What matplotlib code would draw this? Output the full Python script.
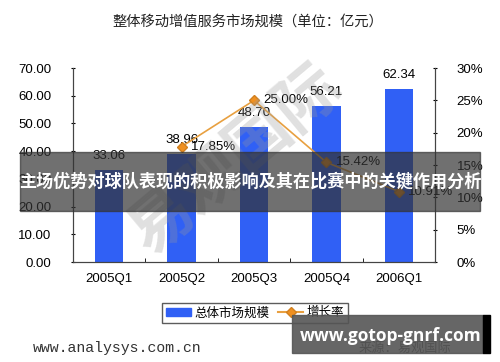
import matplotlib.pyplot as plt
from matplotlib.patches import Rectangle

plt.rcParams['font.family'] = ['Liberation Sans', 'Noto Sans CJK SC', 'DejaVu Sans']

quarters = ['2005Q1', '2005Q2', '2005Q3', '2005Q4', '2006Q1']
market = [33.06, 38.96, 48.70, 56.21, 62.34]
growth = [None, 17.85, 25.00, 15.42, 10.91]
left_ticks = [0, 10, 20, 30, 40, 50, 60, 70]
right_ticks = [0, 5, 10, 15, 20, 25, 30]

fig = plt.figure(figsize=(5.0, 3.62), dpi=100)
ax = fig.add_axes([0.146, 0.276, 0.724, 0.536])
ax2 = ax.twinx()

x = list(range(len(quarters)))
ax.bar(x, market, width=0.39, color='#3060f5', zorder=2)
for xi, v in zip(x, market):
    ax.text(xi, v + 3, f'{v:.2f}', ha='center', va='bottom', fontsize=9.5)

gx = [xi for xi, g in zip(x, growth) if g is not None]
gy = [g for g in growth if g is not None]
ax2.plot(gx, gy, color='#e8a040', lw=1.2, marker='D', ms=5,
         mfc='#f09020', mec='#d08020', zorder=3)
for xi, g in zip(gx, gy):
    ax2.text(xi + 0.13, g, f'{g:.2f}%', ha='left', va='center', fontsize=9.5)

ax.set_xlim(-0.5, 4.5)
ax.set_ylim(0, 70)
ax2.set_ylim(0, 30)
ax.set_yticks(left_ticks)
ax.set_yticklabels([f'{t:.2f}' for t in left_ticks], fontsize=9.5)
ax2.set_yticks(right_ticks)
ax2.set_yticklabels([f'{t}%' for t in right_ticks], fontsize=9.5)
ax.set_xticks(x)
ax.set_xticklabels(quarters, fontsize=9.5)
ax.tick_params(axis='x', length=0, pad=8)
ax.set_xticks([0.5, 1.5, 2.5, 3.5], minor=True)
ax.tick_params(axis='x', which='minor', length=3, direction='in')
ax.tick_params(axis='y', length=3, direction='inout', pad=14)
ax2.tick_params(axis='y', length=3, direction='inout', pad=14)
for a in (ax, ax2):
    a.spines['top'].set_visible(False)
    for s in ('left', 'right', 'bottom'):
        a.spines[s].set_color('#444444')
        a.spines[s].set_linewidth(0.8)

h1 = Rectangle((0, 0), 1, 1, color='#3060f5')
h2, = ax2.plot([], [], color='#e8a040', marker='D', ms=5, mfc='#f09020', mec='#d08020')
fig.legend([h1, h2], ['总体市场规模', '增长率'], loc='center', bbox_to_anchor=(0.51, 0.135),
           ncol=2, fontsize=9, frameon=True, fancybox=False, edgecolor='#333333',
           handlelength=2.0, handletextpad=0.3, columnspacing=0.7, borderpad=0.3)

fig.text(0.495, 0.94, '整体移动增值服务市场规模（单位：亿元）', ha='center', va='center',
         fontsize=10.3, family=['Noto Sans CJK SC'], color='#222222')

# watermark
fig.text(0.47, 0.56, '易观国际', ha='center', va='center', fontsize=46, rotation=40,
         family=['Noto Sans CJK SC'], weight='bold', color='#999999', alpha=0.3, zorder=5)

fig.text(0.066, 0.039, 'www.analysys.com.cn', ha='left', va='center', fontsize=10.7,
         family=['Liberation Mono'], color='#333333')
fig.text(0.81, 0.039, '来源：易观国际', ha='center', va='center', fontsize=9.5,
         family=['Noto Sans CJK SC'], color='#333333')

# overlay banner
fig.patches.append(Rectangle((0.04, 0.417), 0.92, 0.163, transform=fig.transFigure,
                             color='#333333', alpha=0.7, zorder=10))
fig.text(0.5, 0.4985, '主场优势对球队表现的积极影响及其在比赛中的关键作用分析', ha='center',
         va='center', fontsize=12.3, weight='bold', color='white',
         family=['Noto Sans CJK SC'], zorder=11)

fig.patches.append(Rectangle((0.584, 0.025), 0.382, 0.105, transform=fig.transFigure,
                             color='#555555', alpha=0.9, zorder=10))
fig.patches.append(Rectangle((0.966, 0.025), 0.014, 0.105, transform=fig.transFigure,
                             color='black', zorder=10))
fig.text(0.782, 0.072, 'www.gotop-gnrf.com', ha='center', va='center', fontsize=12.5,
         weight='bold', color='white', family=['Open Sans'], zorder=11)

fig.savefig('out.png', dpi=100)
